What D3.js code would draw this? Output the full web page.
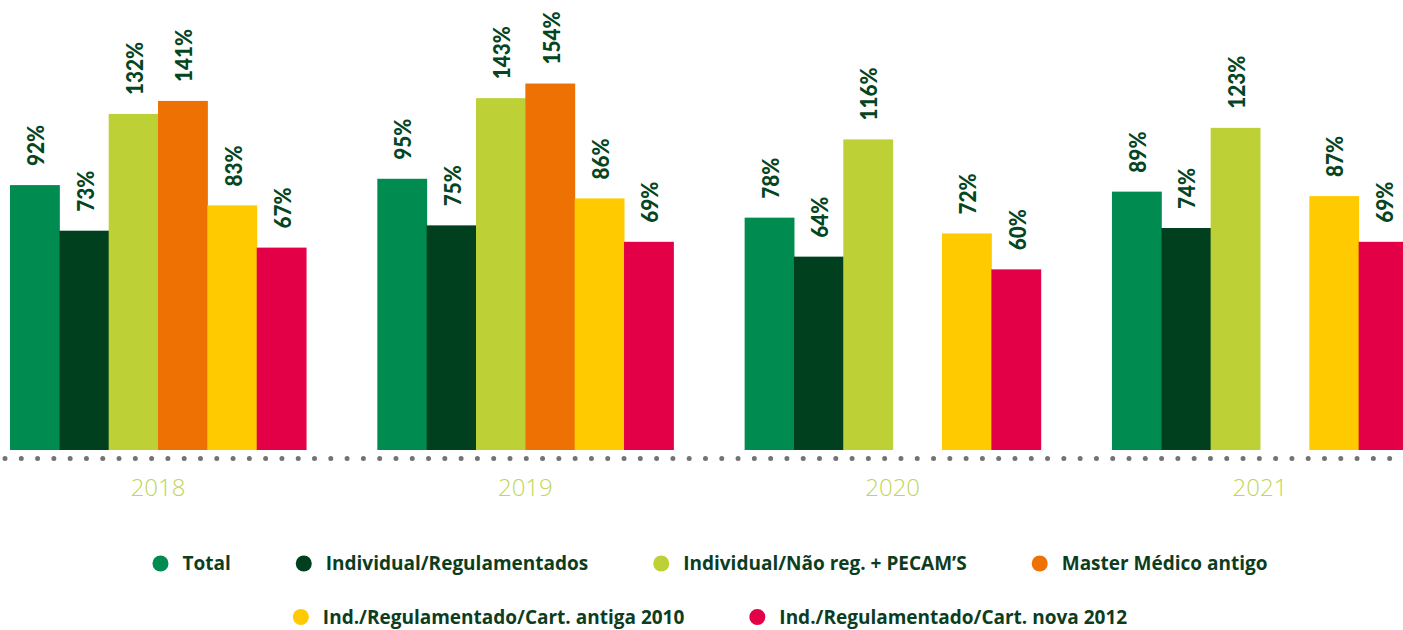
<!DOCTYPE html>
<html>
<head>
<meta charset="utf-8">
<script src="https://cdn.jsdelivr.net/npm/d3@7"></script>
<style>
  html, body { margin: 0; padding: 0; background: #fff; }
  svg { display: block; }
</style>
</head>
<body>
<svg id="chart" width="1403" height="630"></svg>
<script>
// ---- data ----
const years = ["2018", "2019", "2020", "2021"];
const seriesNames = [
  "Total",
  "Individual/Regulamentados",
  "Individual/Não reg. + PECAM’S",
  "Master Médico antigo",
  "Ind./Regulamentado/Cart. antiga 2010",
  "Ind./Regulamentado/Cart. nova 2012"
];
const total      = [92, 95, 78, 89];
const indReg     = [73, 75, 64, 74];
const naoReg     = [132, 143, 116, 123];
const master     = [141, 154, null, null];
const cartAntiga = [83, 86, 72, 87];
const cartNova   = [67, 69, 60, 69];
const seriesValues = [total, indReg, naoReg, master, cartAntiga, cartNova];
const colors = ["#008c50", "#00401e", "#bdd137", "#ed7203", "#ffcb00", "#e40046"];

// ---- layout ----
const svg = d3.select("#chart");
const baseline = 450;

const x0 = d3.scaleBand().domain(years).range([10, 1408]).paddingInner(0.194).paddingOuter(0);
const x1 = d3.scaleBand().domain(d3.range(seriesNames.length)).range([0, x0.bandwidth()]).padding(0);
const y = d3.scaleLog().domain([24, 160]).range([baseline, 76]);

const rows = [];
years.forEach((yr, gi) => {
  seriesValues.forEach((arr, si) => {
    if (arr[gi] != null) rows.push({ year: yr, si, v: arr[gi] });
  });
});

// bars
svg.append("g").selectAll("rect").data(rows).join("rect")
  .attr("x", d => x0(d.year) + x1(d.si))
  .attr("y", d => y(d.v))
  .attr("width", x1.bandwidth() + 0.5)
  .attr("height", d => baseline - y(d.v))
  .attr("fill", d => colors[d.si]);

// value labels
svg.append("g").selectAll("text").data(rows).join("text")
  .attr("transform", d => {
    const cx = x0(d.year) + x1(d.si) + x1.bandwidth() / 2;
    return `translate(${cx + 9.5},${y(d.v) - 19}) rotate(-90) scale(0.9,1)`;
  })
  .attr("text-anchor", "start")
  .style("font-family", "Lato, 'Open Sans', sans-serif")
  .style("font-weight", 900)
  .style("font-size", "23px")
  .attr("fill", "#05451f")
  .text(d => d.v + "%");

// dotted axis
svg.append("line")
  .attr("x1", 5).attr("x2", 1403)
  .attr("y1", 458.5).attr("y2", 458.5)
  .attr("stroke", "#737373")
  .attr("stroke-width", 5)
  .attr("stroke-linecap", "round")
  .attr("stroke-dasharray", "0,16.29");

// year labels
svg.append("g").selectAll("text").data(years).join("text")
  .attr("x", d => x0(d) + x0.bandwidth() / 2)
  .attr("y", 496)
  .attr("text-anchor", "middle")
  .style("font-family", "'Open Sans', sans-serif")
  .style("font-weight", 300)
  .style("font-size", "24px")
  .attr("fill", "#c0d55a")
  .text(d => d);

// legend
const legendRows = [[0, 1, 2, 3], [4, 5]];
const legendY = [570, 623.5];
const legendCenter = 710;
const gap = 65;
legendRows.forEach((idxs, ri) => {
  const g = svg.append("g");
  const items = idxs.map(i => {
    const it = g.append("g");
    it.append("circle").attr("cx", 8).attr("cy", -6.5).attr("r", 8).attr("fill", colors[i]);
    const t = it.append("text").attr("x", 30).attr("y", 0)
      .style("font-family", "'Open Sans', sans-serif")
      .style("font-weight", 700)
      .style("font-size", "19px")
      .attr("fill", "#0c3d1e")
      .text(seriesNames[i]);
    return { it, w: 30 + t.node().getComputedTextLength() };
  });
  const totalW = d3.sum(items, d => d.w) + gap * (items.length - 1);
  let cx = legendCenter - totalW / 2;
  items.forEach(d => {
    d.it.attr("transform", `translate(${cx},${legendY[ri]})`);
    cx += d.w + gap;
  });
});
</script>
</body>
</html>
